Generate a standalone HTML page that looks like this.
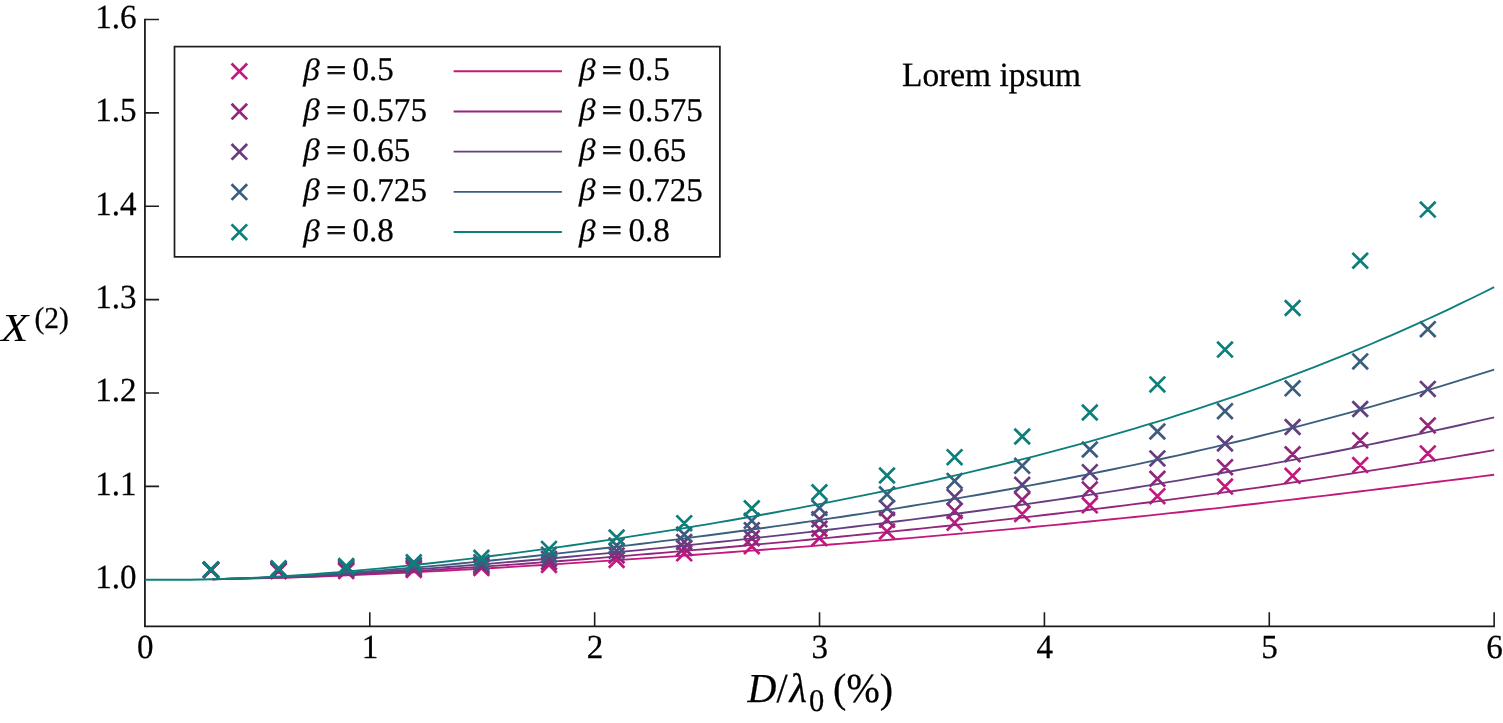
<!DOCTYPE html>
<html lang="en"><head><meta charset="utf-8"><title>X(2) versus D/λ0</title>
<style>html,body{margin:0;padding:0;background:#fff;overflow:hidden}svg{display:block}</style>
</head><body>
<svg width="1503" height="723" viewBox="0 0 1503 723" role="img" aria-label="X(2) versus D/λ0 (%) for five values of β">
<rect width="1503" height="723" fill="#fff"/>
<g fill="none" stroke="#1c1c1c">
<path d="M144.92,18.7V626.3H1494.95" stroke-width="1.8"/>
<path d="M144.92,486.33h14.1M144.92,392.97h14.1M144.92,299.6h14.1M144.92,206.23h14.1M144.92,112.87h14.1M144.92,19.5h14.1M369.79,626.3v-14.1M594.66,626.3v-14.1M819.53,626.3v-14.1M1044.41,626.3v-14.1M1269.28,626.3v-14.1M1494.15,626.3v-14.1" stroke-width="1.6"/>
</g>
<g fill="none" stroke-linejoin="round">
<path d="M203.2,562.5l15.6,15.6m0,-15.6l-15.6,15.6M270.8,563.4l15.6,15.6m0,-15.6l-15.6,15.6M338.4,563.3l15.6,15.6m0,-15.6l-15.6,15.6M406,562.1l15.6,15.6m0,-15.6l-15.6,15.6M473.6,560.3l15.6,15.6m0,-15.6l-15.6,15.6M541.2,557.1l15.6,15.6m0,-15.6l-15.6,15.6M608.8,552.2l15.6,15.6m0,-15.6l-15.6,15.6M676.4,545.5l15.6,15.6m0,-15.6l-15.6,15.6M744,538.4l15.6,15.6m0,-15.6l-15.6,15.6M811.6,530.35l15.6,15.6m0,-15.6l-15.6,15.6M879.2,523.6l15.6,15.6m0,-15.6l-15.6,15.6M946.8,514.9l15.6,15.6m0,-15.6l-15.6,15.6M1014.4,506.3l15.6,15.6m0,-15.6l-15.6,15.6M1082,497.5l15.6,15.6m0,-15.6l-15.6,15.6M1149.6,488.4l15.6,15.6m0,-15.6l-15.6,15.6M1217.2,478.8l15.6,15.6m0,-15.6l-15.6,15.6M1284.8,468l15.6,15.6m0,-15.6l-15.6,15.6M1352.4,457.3l15.6,15.6m0,-15.6l-15.6,15.6M1420,445.6l15.6,15.6m0,-15.6l-15.6,15.6" stroke="#c3187e" stroke-width="2.75"/>
<path d="M212.38,579.26 L223.63,578.98 L234.87,578.71 L246.11,578.51 L257.36,578.35 L268.6,578.16 L279.84,577.85 L291.09,577.5 L302.33,577.13 L313.57,576.73 L324.82,576.31 L336.06,575.87 L347.3,575.41 L358.55,574.93 L369.79,574.43 L381.04,573.92 L392.28,573.39 L403.52,572.84 L414.77,572.27 L426.01,571.7 L437.25,571.11 L448.5,570.5 L459.74,569.88 L470.98,569.26 L482.23,568.61 L493.47,567.96 L504.71,567.3 L515.96,566.63 L527.2,565.95 L538.45,565.25 L549.69,564.55 L560.93,563.84 L572.18,563.13 L583.42,562.4 L594.66,561.67 L605.91,560.92 L617.15,560.17 L628.39,559.42 L639.64,558.65 L650.88,557.88 L662.12,557.1 L673.37,556.31 L684.61,555.52 L695.86,554.72 L707.1,553.91 L718.34,553.09 L729.59,552.27 L740.83,551.44 L752.07,550.61 L763.32,549.76 L774.56,548.91 L785.8,548.05 L797.05,547.18 L808.29,546.31 L819.53,545.43 L830.78,544.54 L842.02,543.64 L853.27,542.73 L864.51,541.82 L875.75,540.9 L887,539.96 L898.24,539.02 L909.48,538.08 L920.73,537.12 L931.97,536.15 L943.21,535.17 L954.46,534.19 L965.7,533.19 L976.95,532.18 L988.19,531.17 L999.43,530.14 L1010.68,529.1 L1021.92,528.05 L1033.16,527 L1044.41,525.93 L1055.65,524.85 L1066.89,523.76 L1078.14,522.65 L1089.38,521.54 L1100.62,520.42 L1111.87,519.28 L1123.11,518.13 L1134.36,516.97 L1145.6,515.8 L1156.84,514.62 L1168.09,513.43 L1179.33,512.23 L1190.57,511.01 L1201.82,509.78 L1213.06,508.55 L1224.3,507.3 L1235.55,506.04 L1246.79,504.77 L1258.03,503.49 L1269.28,502.19 L1280.52,500.89 L1291.77,499.58 L1303.01,498.26 L1314.25,496.93 L1325.5,495.59 L1336.74,494.24 L1347.98,492.88 L1359.23,491.52 L1370.47,490.15 L1381.71,488.77 L1392.96,487.38 L1404.2,485.99 L1415.44,484.6 L1426.69,483.2 L1437.93,481.79 L1449.18,480.38 L1460.42,478.97 L1471.66,477.56 L1482.91,476.15 L1494.15,474.74" stroke="#c3187e" stroke-width="1.85"/>
<path d="M203.2,562.25l15.6,15.6m0,-15.6l-15.6,15.6M270.8,562.7l15.6,15.6m0,-15.6l-15.6,15.6M338.4,562.1l15.6,15.6m0,-15.6l-15.6,15.6M406,560.6l15.6,15.6m0,-15.6l-15.6,15.6M473.6,558.4l15.6,15.6m0,-15.6l-15.6,15.6M541.2,554.1l15.6,15.6m0,-15.6l-15.6,15.6M608.8,547.6l15.6,15.6m0,-15.6l-15.6,15.6M676.4,540.2l15.6,15.6m0,-15.6l-15.6,15.6M744,530.4l15.6,15.6m0,-15.6l-15.6,15.6M811.6,520.95l15.6,15.6m0,-15.6l-15.6,15.6M879.2,512l15.6,15.6m0,-15.6l-15.6,15.6M946.8,503.1l15.6,15.6m0,-15.6l-15.6,15.6M1014.4,492l15.6,15.6m0,-15.6l-15.6,15.6M1082,481.6l15.6,15.6m0,-15.6l-15.6,15.6M1149.6,471l15.6,15.6m0,-15.6l-15.6,15.6M1217.2,459.35l15.6,15.6m0,-15.6l-15.6,15.6M1284.8,446.45l15.6,15.6m0,-15.6l-15.6,15.6M1352.4,432.4l15.6,15.6m0,-15.6l-15.6,15.6M1420,417.6l15.6,15.6m0,-15.6l-15.6,15.6" stroke="#93257b" stroke-width="2.75"/>
<path d="M212.38,579.26 L223.63,578.96 L234.87,578.66 L246.11,578.4 L257.36,578.17 L268.6,577.91 L279.84,577.55 L291.09,577.14 L302.33,576.71 L313.57,576.24 L324.82,575.75 L336.06,575.24 L347.3,574.7 L358.55,574.14 L369.79,573.55 L381.04,572.95 L392.28,572.32 L403.52,571.68 L414.77,571.01 L426.01,570.33 L437.25,569.63 L448.5,568.91 L459.74,568.18 L470.98,567.43 L482.23,566.67 L493.47,565.89 L504.71,565.1 L515.96,564.3 L527.2,563.48 L538.45,562.65 L549.69,561.81 L560.93,560.96 L572.18,560.1 L583.42,559.22 L594.66,558.34 L605.91,557.44 L617.15,556.54 L628.39,555.62 L639.64,554.7 L650.88,553.76 L662.12,552.82 L673.37,551.87 L684.61,550.91 L695.86,549.94 L707.1,548.96 L718.34,547.97 L729.59,546.97 L740.83,545.97 L752.07,544.95 L763.32,543.93 L774.56,542.89 L785.8,541.85 L797.05,540.8 L808.29,539.74 L819.53,538.67 L830.78,537.59 L842.02,536.5 L853.27,535.4 L864.51,534.29 L875.75,533.18 L887,532.05 L898.24,530.91 L909.48,529.76 L920.73,528.6 L931.97,527.42 L943.21,526.24 L954.46,525.05 L965.7,523.84 L976.95,522.62 L988.19,521.39 L999.43,520.15 L1010.68,518.89 L1021.92,517.62 L1033.16,516.34 L1044.41,515.04 L1055.65,513.73 L1066.89,512.41 L1078.14,511.07 L1089.38,509.72 L1100.62,508.36 L1111.87,506.98 L1123.11,505.58 L1134.36,504.17 L1145.6,502.74 L1156.84,501.3 L1168.09,499.84 L1179.33,498.37 L1190.57,496.87 L1201.82,495.37 L1213.06,493.84 L1224.3,492.3 L1235.55,490.74 L1246.79,489.17 L1258.03,487.57 L1269.28,485.96 L1280.52,484.34 L1291.77,482.69 L1303.01,481.03 L1314.25,479.35 L1325.5,477.65 L1336.74,475.93 L1347.98,474.2 L1359.23,472.45 L1370.47,470.68 L1381.71,468.89 L1392.96,467.09 L1404.2,465.27 L1415.44,463.43 L1426.69,461.57 L1437.93,459.7 L1449.18,457.81 L1460.42,455.9 L1471.66,453.98 L1482.91,452.04 L1494.15,450.09" stroke="#93257b" stroke-width="1.85"/>
<path d="M203.2,562l15.6,15.6m0,-15.6l-15.6,15.6M270.8,562l15.6,15.6m0,-15.6l-15.6,15.6M338.4,561l15.6,15.6m0,-15.6l-15.6,15.6M406,559.1l15.6,15.6m0,-15.6l-15.6,15.6M473.6,556.6l15.6,15.6m0,-15.6l-15.6,15.6M541.2,551l15.6,15.6m0,-15.6l-15.6,15.6M608.8,543l15.6,15.6m0,-15.6l-15.6,15.6M676.4,534.2l15.6,15.6m0,-15.6l-15.6,15.6M744,522.4l15.6,15.6m0,-15.6l-15.6,15.6M811.6,511.55l15.6,15.6m0,-15.6l-15.6,15.6M879.2,500.1l15.6,15.6m0,-15.6l-15.6,15.6M946.8,489.1l15.6,15.6m0,-15.6l-15.6,15.6M1014.4,477l15.6,15.6m0,-15.6l-15.6,15.6M1082,464.4l15.6,15.6m0,-15.6l-15.6,15.6M1149.6,450.6l15.6,15.6m0,-15.6l-15.6,15.6M1217.2,435.7l15.6,15.6m0,-15.6l-15.6,15.6M1284.8,419.2l15.6,15.6m0,-15.6l-15.6,15.6M1352.4,401.2l15.6,15.6m0,-15.6l-15.6,15.6M1420,381.1l15.6,15.6m0,-15.6l-15.6,15.6" stroke="#663e80" stroke-width="2.75"/>
<path d="M212.38,579.26 L223.63,578.95 L234.87,578.62 L246.11,578.31 L257.36,577.99 L268.6,577.65 L279.84,577.21 L291.09,576.73 L302.33,576.21 L313.57,575.66 L324.82,575.08 L336.06,574.47 L347.3,573.83 L358.55,573.17 L369.79,572.47 L381.04,571.75 L392.28,571.01 L403.52,570.24 L414.77,569.45 L426.01,568.64 L437.25,567.81 L448.5,566.96 L459.74,566.09 L470.98,565.2 L482.23,564.3 L493.47,563.37 L504.71,562.43 L515.96,561.48 L527.2,560.51 L538.45,559.52 L549.69,558.53 L560.93,557.51 L572.18,556.49 L583.42,555.45 L594.66,554.39 L605.91,553.33 L617.15,552.25 L628.39,551.16 L639.64,550.06 L650.88,548.94 L662.12,547.82 L673.37,546.68 L684.61,545.53 L695.86,544.36 L707.1,543.19 L718.34,542 L729.59,540.8 L740.83,539.59 L752.07,538.37 L763.32,537.14 L774.56,535.89 L785.8,534.63 L797.05,533.36 L808.29,532.07 L819.53,530.77 L830.78,529.46 L842.02,528.13 L853.27,526.79 L864.51,525.44 L875.75,524.07 L887,522.68 L898.24,521.28 L909.48,519.87 L920.73,518.44 L931.97,516.99 L943.21,515.52 L954.46,514.04 L965.7,512.54 L976.95,511.03 L988.19,509.49 L999.43,507.94 L1010.68,506.37 L1021.92,504.78 L1033.16,503.17 L1044.41,501.54 L1055.65,499.89 L1066.89,498.22 L1078.14,496.53 L1089.38,494.81 L1100.62,493.08 L1111.87,491.32 L1123.11,489.55 L1134.36,487.75 L1145.6,485.92 L1156.84,484.08 L1168.09,482.21 L1179.33,480.31 L1190.57,478.4 L1201.82,476.45 L1213.06,474.49 L1224.3,472.5 L1235.55,470.49 L1246.79,468.45 L1258.03,466.38 L1269.28,464.29 L1280.52,462.18 L1291.77,460.04 L1303.01,457.88 L1314.25,455.69 L1325.5,453.47 L1336.74,451.23 L1347.98,448.97 L1359.23,446.68 L1370.47,444.36 L1381.71,442.03 L1392.96,439.66 L1404.2,437.27 L1415.44,434.86 L1426.69,432.43 L1437.93,429.97 L1449.18,427.49 L1460.42,424.98 L1471.66,422.46 L1482.91,419.91 L1494.15,417.34" stroke="#663e80" stroke-width="1.85"/>
<path d="M203.2,561.8l15.6,15.6m0,-15.6l-15.6,15.6M270.8,561.3l15.6,15.6m0,-15.6l-15.6,15.6M338.4,559.8l15.6,15.6m0,-15.6l-15.6,15.6M406,557.2l15.6,15.6m0,-15.6l-15.6,15.6M473.6,554.4l15.6,15.6m0,-15.6l-15.6,15.6M541.2,546.9l15.6,15.6m0,-15.6l-15.6,15.6M608.8,537.7l15.6,15.6m0,-15.6l-15.6,15.6M676.4,526.7l15.6,15.6m0,-15.6l-15.6,15.6M744,513l15.6,15.6m0,-15.6l-15.6,15.6M811.6,500l15.6,15.6m0,-15.6l-15.6,15.6M879.2,486.5l15.6,15.6m0,-15.6l-15.6,15.6M946.8,473.1l15.6,15.6m0,-15.6l-15.6,15.6M1014.4,458l15.6,15.6m0,-15.6l-15.6,15.6M1082,441.7l15.6,15.6m0,-15.6l-15.6,15.6M1149.6,423.7l15.6,15.6m0,-15.6l-15.6,15.6M1217.2,403.4l15.6,15.6m0,-15.6l-15.6,15.6M1284.8,380.55l15.6,15.6m0,-15.6l-15.6,15.6M1352.4,353.65l15.6,15.6m0,-15.6l-15.6,15.6M1420,321.35l15.6,15.6m0,-15.6l-15.6,15.6" stroke="#3b5e7f" stroke-width="2.75"/>
<path d="M212.38,579.26 L223.63,578.95 L234.87,578.6 L246.11,578.23 L257.36,577.84 L268.6,577.39 L279.84,576.87 L291.09,576.3 L302.33,575.69 L313.57,575.03 L324.82,574.34 L336.06,573.61 L347.3,572.84 L358.55,572.04 L369.79,571.21 L381.04,570.34 L392.28,569.45 L403.52,568.53 L414.77,567.58 L426.01,566.6 L437.25,565.59 L448.5,564.57 L459.74,563.51 L470.98,562.44 L482.23,561.34 L493.47,560.22 L504.71,559.08 L515.96,557.92 L527.2,556.74 L538.45,555.54 L549.69,554.33 L560.93,553.09 L572.18,551.84 L583.42,550.57 L594.66,549.28 L605.91,547.97 L617.15,546.65 L628.39,545.31 L639.64,543.96 L650.88,542.59 L662.12,541.2 L673.37,539.8 L684.61,538.38 L695.86,536.94 L707.1,535.49 L718.34,534.02 L729.59,532.54 L740.83,531.03 L752.07,529.51 L763.32,527.98 L774.56,526.42 L785.8,524.85 L797.05,523.26 L808.29,521.65 L819.53,520.02 L830.78,518.37 L842.02,516.71 L853.27,515.02 L864.51,513.31 L875.75,511.58 L887,509.83 L898.24,508.06 L909.48,506.26 L920.73,504.45 L931.97,502.6 L943.21,500.74 L954.46,498.85 L965.7,496.93 L976.95,494.99 L988.19,493.02 L999.43,491.03 L1010.68,489.01 L1021.92,486.96 L1033.16,484.88 L1044.41,482.77 L1055.65,480.64 L1066.89,478.47 L1078.14,476.27 L1089.38,474.05 L1100.62,471.78 L1111.87,469.49 L1123.11,467.17 L1134.36,464.81 L1145.6,462.41 L1156.84,459.99 L1168.09,457.52 L1179.33,455.03 L1190.57,452.49 L1201.82,449.92 L1213.06,447.32 L1224.3,444.67 L1235.55,441.99 L1246.79,439.28 L1258.03,436.52 L1269.28,433.72 L1280.52,430.89 L1291.77,428.02 L1303.01,425.11 L1314.25,422.16 L1325.5,419.17 L1336.74,416.14 L1347.98,413.07 L1359.23,409.96 L1370.47,406.81 L1381.71,403.62 L1392.96,400.39 L1404.2,397.12 L1415.44,393.81 L1426.69,390.46 L1437.93,387.08 L1449.18,383.65 L1460.42,380.18 L1471.66,376.68 L1482.91,373.14 L1494.15,369.56" stroke="#3b5e7f" stroke-width="1.85"/>
<path d="M203.2,561.6l15.6,15.6m0,-15.6l-15.6,15.6M270.8,560.55l15.6,15.6m0,-15.6l-15.6,15.6M338.4,558.2l15.6,15.6m0,-15.6l-15.6,15.6M406,554.5l15.6,15.6m0,-15.6l-15.6,15.6M473.6,550l15.6,15.6m0,-15.6l-15.6,15.6M541.2,541.1l15.6,15.6m0,-15.6l-15.6,15.6M608.8,529.7l15.6,15.6m0,-15.6l-15.6,15.6M676.4,515.4l15.6,15.6m0,-15.6l-15.6,15.6M744,500.5l15.6,15.6m0,-15.6l-15.6,15.6M811.6,484.45l15.6,15.6m0,-15.6l-15.6,15.6M879.2,467.7l15.6,15.6m0,-15.6l-15.6,15.6M946.8,449.4l15.6,15.6m0,-15.6l-15.6,15.6M1014.4,428.7l15.6,15.6m0,-15.6l-15.6,15.6M1082,404.7l15.6,15.6m0,-15.6l-15.6,15.6M1149.6,376.6l15.6,15.6m0,-15.6l-15.6,15.6M1217.2,341.8l15.6,15.6m0,-15.6l-15.6,15.6M1284.8,300.2l15.6,15.6m0,-15.6l-15.6,15.6M1352.4,252.9l15.6,15.6m0,-15.6l-15.6,15.6M1420,201.8l15.6,15.6m0,-15.6l-15.6,15.6" stroke="#0d7f7b" stroke-width="2.75"/>
<path d="M144.92,579.7 L156.16,579.7 L167.41,579.7 L178.65,579.7 L189.89,579.7 L201.14,579.52 L212.38,579.26 L223.63,578.93 L234.87,578.53 L246.11,578.07 L257.36,577.55 L268.6,576.97 L279.84,576.33 L291.09,575.63 L302.33,574.89 L313.57,574.09 L324.82,573.25 L336.06,572.35 L347.3,571.42 L358.55,570.44 L369.79,569.42 L381.04,568.35 L392.28,567.25 L403.52,566.11 L414.77,564.94 L426.01,563.73 L437.25,562.48 L448.5,561.21 L459.74,559.9 L470.98,558.56 L482.23,557.19 L493.47,555.79 L504.71,554.37 L515.96,552.91 L527.2,551.43 L538.45,549.92 L549.69,548.39 L560.93,546.83 L572.18,545.24 L583.42,543.63 L594.66,542 L605.91,540.34 L617.15,538.65 L628.39,536.95 L639.64,535.21 L650.88,533.46 L662.12,531.68 L673.37,529.87 L684.61,528.04 L695.86,526.19 L707.1,524.31 L718.34,522.4 L729.59,520.47 L740.83,518.52 L752.07,516.54 L763.32,514.53 L774.56,512.49 L785.8,510.43 L797.05,508.34 L808.29,506.21 L819.53,504.06 L830.78,501.88 L842.02,499.67 L853.27,497.43 L864.51,495.15 L875.75,492.85 L887,490.51 L898.24,488.13 L909.48,485.72 L920.73,483.27 L931.97,480.78 L943.21,478.26 L954.46,475.7 L965.7,473.1 L976.95,470.45 L988.19,467.77 L999.43,465.04 L1010.68,462.27 L1021.92,459.45 L1033.16,456.59 L1044.41,453.68 L1055.65,450.73 L1066.89,447.72 L1078.14,444.66 L1089.38,441.56 L1100.62,438.4 L1111.87,435.19 L1123.11,431.92 L1134.36,428.6 L1145.6,425.22 L1156.84,421.79 L1168.09,418.29 L1179.33,414.74 L1190.57,411.12 L1201.82,407.45 L1213.06,403.71 L1224.3,399.91 L1235.55,396.04 L1246.79,392.11 L1258.03,388.11 L1269.28,384.04 L1280.52,379.91 L1291.77,375.7 L1303.01,371.43 L1314.25,367.08 L1325.5,362.66 L1336.74,358.17 L1347.98,353.6 L1359.23,348.96 L1370.47,344.24 L1381.71,339.45 L1392.96,334.58 L1404.2,329.63 L1415.44,324.6 L1426.69,319.49 L1437.93,314.3 L1449.18,309.04 L1460.42,303.69 L1471.66,298.26 L1482.91,292.74 L1494.15,287.14" stroke="#0d7f7b" stroke-width="1.85"/>
</g>
<rect x="174.5" y="46.6" width="545.4" height="210.25" fill="#fff" stroke="#1c1c1c" stroke-width="1.7"/>
<g fill="none" stroke-width="2.75">
<path d="M231.55,63.55l15.6,15.6m0,-15.6l-15.6,15.6" stroke="#c3187e"/>
<path d="M231.55,103.75l15.6,15.6m0,-15.6l-15.6,15.6" stroke="#93257b"/>
<path d="M231.55,144l15.6,15.6m0,-15.6l-15.6,15.6" stroke="#663e80"/>
<path d="M231.55,184.25l15.6,15.6m0,-15.6l-15.6,15.6" stroke="#3b5e7f"/>
<path d="M231.55,224.4l15.6,15.6m0,-15.6l-15.6,15.6" stroke="#0d7f7b"/>
</g>
<g fill="none" stroke-width="1.85">
<path d="M453.6,71.25H561.9" stroke="#c3187e"/>
<path d="M453.6,111.5H561.9" stroke="#93257b"/>
<path d="M453.6,151.65H561.9" stroke="#663e80"/>
<path d="M453.6,191.85H561.9" stroke="#3b5e7f"/>
<path d="M453.6,232.0H561.9" stroke="#0d7f7b"/>
</g>
<g font-family="'Liberation Serif', 'DejaVu Serif', serif" font-size="33.1" fill="#000" stroke="#000" stroke-width="0.25" text-rendering="geometricPrecision">
<text transform="translate(303.2,79.8) scale(1,0.93)" font-style="italic">β</text>
<text transform="translate(326.2,79.5) scale(1,0.85)" font-size="35.0" stroke-width="1">=</text>
<text transform="translate(352.5,80.3) scale(1,1.0)">0.5</text>
<text transform="translate(579.1,79.8) scale(1,0.93)" font-style="italic">β</text>
<text transform="translate(602.1,79.5) scale(1,0.85)" font-size="35.0" stroke-width="1">=</text>
<text transform="translate(628.4,80.3) scale(1,1.0)">0.5</text>
<text transform="translate(303.2,120.05) scale(1,0.93)" font-style="italic">β</text>
<text transform="translate(326.2,119.75) scale(1,0.85)" font-size="35.0" stroke-width="1">=</text>
<text transform="translate(352.5,120.55) scale(1,1.0)">0.575</text>
<text transform="translate(579.1,120.05) scale(1,0.93)" font-style="italic">β</text>
<text transform="translate(602.1,119.75) scale(1,0.85)" font-size="35.0" stroke-width="1">=</text>
<text transform="translate(628.4,120.55) scale(1,1.0)">0.575</text>
<text transform="translate(303.2,160.2) scale(1,0.93)" font-style="italic">β</text>
<text transform="translate(326.2,159.9) scale(1,0.85)" font-size="35.0" stroke-width="1">=</text>
<text transform="translate(352.5,160.7) scale(1,1.0)">0.65</text>
<text transform="translate(579.1,160.2) scale(1,0.93)" font-style="italic">β</text>
<text transform="translate(602.1,159.9) scale(1,0.85)" font-size="35.0" stroke-width="1">=</text>
<text transform="translate(628.4,160.7) scale(1,1.0)">0.65</text>
<text transform="translate(303.2,200.4) scale(1,0.93)" font-style="italic">β</text>
<text transform="translate(326.2,200.1) scale(1,0.85)" font-size="35.0" stroke-width="1">=</text>
<text transform="translate(352.5,200.9) scale(1,1.0)">0.725</text>
<text transform="translate(579.1,200.4) scale(1,0.93)" font-style="italic">β</text>
<text transform="translate(602.1,200.1) scale(1,0.85)" font-size="35.0" stroke-width="1">=</text>
<text transform="translate(628.4,200.9) scale(1,1.0)">0.725</text>
<text transform="translate(303.2,240.55) scale(1,0.93)" font-style="italic">β</text>
<text transform="translate(326.2,240.25) scale(1,0.85)" font-size="35.0" stroke-width="1">=</text>
<text transform="translate(352.5,241.05) scale(1,1.0)">0.8</text>
<text transform="translate(579.1,240.55) scale(1,0.93)" font-style="italic">β</text>
<text transform="translate(602.1,240.25) scale(1,0.85)" font-size="35.0" stroke-width="1">=</text>
<text transform="translate(628.4,241.05) scale(1,1.0)">0.8</text>
<text transform="translate(136.5,588) scale(1,1.02)" text-anchor="end">1.0</text>
<text transform="translate(136.5,494.63) scale(1,1.02)" text-anchor="end">1.1</text>
<text transform="translate(136.5,401.27) scale(1,1.02)" text-anchor="end">1.2</text>
<text transform="translate(136.5,307.9) scale(1,1.02)" text-anchor="end">1.3</text>
<text transform="translate(136.5,214.53) scale(1,1.02)" text-anchor="end">1.4</text>
<text transform="translate(136.5,121.17) scale(1,1.02)" text-anchor="end">1.5</text>
<text transform="translate(136.5,27.8) scale(1,1.02)" text-anchor="end">1.6</text>
<text transform="translate(145.22,657.7) scale(1,1.02)" text-anchor="middle">0</text>
<text transform="translate(370.09,657.7) scale(1,1.02)" text-anchor="middle">1</text>
<text transform="translate(594.96,657.7) scale(1,1.02)" text-anchor="middle">2</text>
<text transform="translate(819.83,657.7) scale(1,1.02)" text-anchor="middle">3</text>
<text transform="translate(1044.71,657.7) scale(1,1.02)" text-anchor="middle">4</text>
<text transform="translate(1269.58,657.7) scale(1,1.02)" text-anchor="middle">5</text>
<text transform="translate(1494.45,657.7) scale(1,1.02)" text-anchor="middle">6</text>
<text transform="translate(902,85.5) scale(1,1.02)" font-size="33.42">Lorem ipsum</text>
<text transform="translate(747.5,701.95) scale(1,1.03)" font-size="40.0"><tspan font-style="italic">D</tspan><tspan dx="0">/</tspan><tspan font-style="italic" dx="2.1">λ</tspan><tspan font-size="30.5" dy="9.0" dx="2.1">0</tspan><tspan dy="-9.0" dx="8.8">(%)</tspan></text>
<text transform="translate(1,340.8) scale(1.12,0.99)" font-size="40.0" font-style="italic" stroke="none">X</text>
<text transform="translate(34.4,327.9) scale(1,1.03)" font-size="29.5">(2)</text>
</g>
</svg>
</body></html>
